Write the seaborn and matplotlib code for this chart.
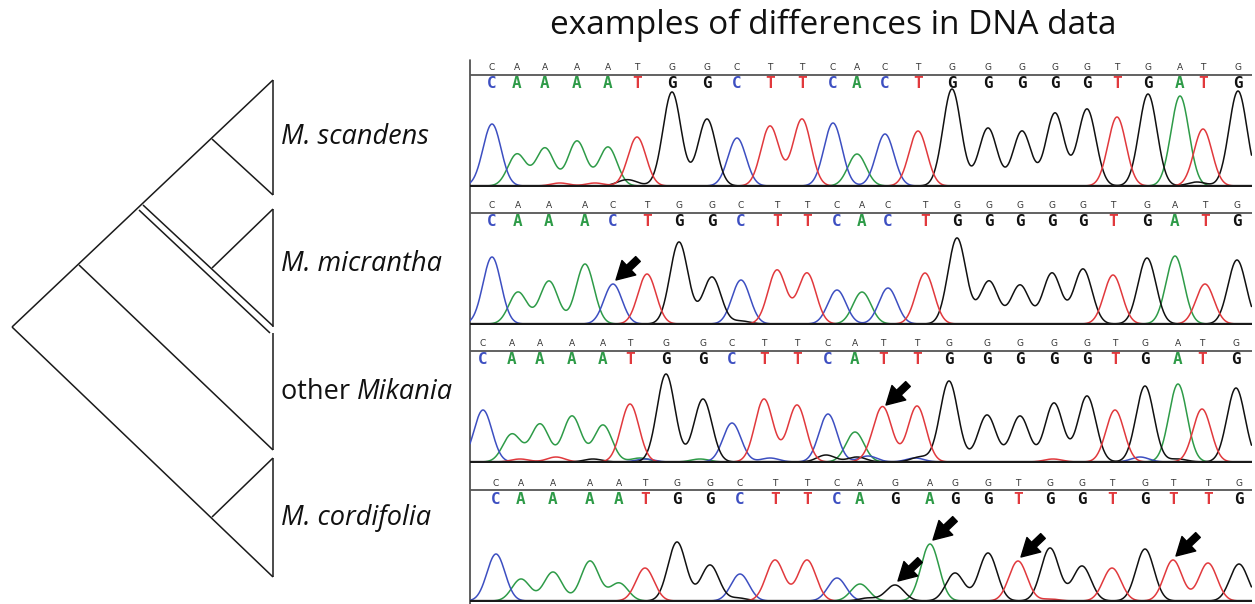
import numpy as np
import pandas as pd
import matplotlib
matplotlib.use("Agg")
import matplotlib.pyplot as plt
import seaborn as sns

# ---------------- data ----------------
title = "examples of differences in DNA data"
clade_labels = ["M. scandens", "M. micrantha", "other Mikania", "M. cordifolia"]

# chromatogram panels: base calls, peak positions (scan units), peak heights
p1_bases = list("CAAAATGGCTTCACTGGGGGTGATG")
p1_pos = [492, 517, 545, 577, 608, 637, 672, 707, 737, 770, 802, 833, 857,
          885, 918, 952, 988, 1022, 1055, 1087, 1117, 1148, 1180, 1203, 1238]
p1_height = [62, 32, 38, 45, 39, 49, 94, 67, 48, 60, 67, 63, 32,
             52, 55, 97, 58, 55, 73, 77, 69, 92, 90, 57, 95]

p2_bases = list("CAAACTGGCTTCACTGGGGGTGATG")
p2_pos = [492, 518, 549, 585, 613, 647, 679, 712, 741, 777, 807, 837, 862,
          888, 925, 957, 989, 1020, 1052, 1083, 1113, 1147, 1175, 1205, 1237]
p2_height = [67, 32, 43, 60, 40, 50, 82, 47, 44, 54, 51, 34, 32,
             36, 51, 86, 43, 39, 51, 55, 49, 66, 68, 40, 64]

p3_bases = list("CAAAATGGCTTCATTGGGGGTGATG")
p3_pos = [483, 512, 540, 572, 603, 630, 666, 703, 732, 764, 797, 828, 855,
          883, 917, 949, 987, 1020, 1054, 1087, 1115, 1145, 1178, 1202, 1236]
p3_height = [52, 28, 38, 46, 37, 58, 88, 63, 39, 63, 57, 48, 30,
             53, 56, 81, 47, 46, 59, 66, 52, 76, 78, 53, 74]

p4_bases = list("CAAAATGGCTTCAGAGGTGGTGTTG")
p4_pos = [496, 521, 553, 590, 619, 645, 677, 710, 740, 775, 807, 837, 860,
          895, 930, 955, 988, 1018, 1050, 1082, 1112, 1145, 1173, 1208, 1239]
p4_height = [47, 22, 29, 40, 18, 33, 59, 36, 27, 41, 41, 23, 17,
             16, 57, 28, 48, 40, 53, 35, 33, 52, 41, 38, 37]

# low background signal
p1_noise_bases = ["G", "G", "T", "T", "G"]
p1_noise_pos = [624, 632, 560, 595, 1197]
p1_noise_height = [4, 3, 3, 3, 4]

p2_noise_bases = ["G"]
p2_noise_pos = [741]
p2_noise_height = [3]

p3_noise_bases = ["T", "T", "G", "A", "C", "A", "C", "G", "G", "C", "T", "G", "C", "T", "C", "G"]
p3_noise_pos = [520, 556, 593, 640, 645, 700, 770, 826, 857, 868, 872, 920, 915, 1053, 1140, 1178]
p3_noise_height = [3, 5, 3, 4, 3, 3, 4, 7, 5, 6, 5, 5, 4, 3, 5, 3]

p4_noise_bases = ["G", "G", "T"]
p4_noise_pos = [738, 868, 1050]
p4_noise_height = [3, 3, 2]

# peaks marked with arrows (index into each panel)
p1_arrows = []
p2_arrows = [4]
p3_arrows = [13]
p4_arrows = [13, 14, 17, 22]

panels = [
    (p1_bases, p1_pos, p1_height, p1_noise_bases, p1_noise_pos, p1_noise_height, p1_arrows),
    (p2_bases, p2_pos, p2_height, p2_noise_bases, p2_noise_pos, p2_noise_height, p2_arrows),
    (p3_bases, p3_pos, p3_height, p3_noise_bases, p3_noise_pos, p3_noise_height, p3_arrows),
    (p4_bases, p4_pos, p4_height, p4_noise_bases, p4_noise_pos, p4_noise_height, p4_arrows),
]

base_colors = {"A": "#2e9b48", "C": "#3d4fc1", "G": "#111111", "T": "#e1393d"}

# ---------------- figure ----------------
sns.set_theme(style="white")
plt.rcParams["font.family"] = ["Open Sans", "DejaVu Sans"]

W, H = 1255, 604
fig = plt.figure(figsize=(W / 100, H / 100), dpi=100)

# overlay axes in pixel space for tree and labels
ax0 = fig.add_axes([0, 0, 1, 1])
ax0.set_xlim(0, W)
ax0.set_ylim(H, 0)
ax0.axis("off")

# ---- cladogram ----
tree_lw = 1.1
tc = "#1a1a1a"
segs = [
    [(12, 327), (273, 80)],     # spine up to scandens top
    [(12, 327), (273, 577)],    # root to cordifolia bottom
    [(79, 265), (273, 450)],    # to other Mikania
    [(143, 205), (273, 326)],   # micrantha branch (double line)
    [(139, 210), (270, 333)],
    [(212, 139), (273, 195)],   # scandens lower edge
    [(212, 268), (273, 209)],   # micrantha upper edge
    [(212, 517), (273, 458)],   # cordifolia upper edge
    [(273, 80), (273, 195)],
    [(273, 209), (273, 327)],
    [(273, 333), (273, 450)],
    [(273, 458), (273, 577)],
]
for (xa, ya), (xb, yb) in segs:
    ax0.plot([xa, xb], [ya, yb], color=tc, lw=tree_lw, solid_capstyle="butt")

label_y = [137, 264, 392, 518]
lab_fs = 19.5
for lab, y in zip(clade_labels, label_y):
    if lab.startswith("other"):
        t1 = ax0.text(281, y, "other ", fontsize=lab_fs, va="center", ha="left", color="#111")
        ax0.annotate("Mikania", xy=(1, 0), xycoords=t1, fontsize=lab_fs, style="italic",
                     va="bottom", ha="left", color="#111")
    else:
        ax0.text(281, y, lab, fontsize=lab_fs, style="italic", va="center", ha="left", color="#111")

ax0.text(833, 25, title, fontsize=24, ha="center", va="center", color="#111")

# ---- chromatograms ----
baselines = [187, 325, 463, 602]
tops = [60, 187, 325, 463]
x0, x1 = 470, 1252
sigma = 9.0
xs = np.arange(x0, x1, 0.5)

for (bases, pos, hts, nb, npos, nh, arrows), base_px, top_px in zip(panels, baselines, tops):
    hpx = base_px - top_px
    ax = fig.add_axes([x0 / W, (H - base_px) / H, (x1 - x0) / W, hpx / H])
    ax.set_xlim(x0, x1)
    ax.set_ylim(-1, hpx - 1)
    ax.set_axis_off()

    all_b = list(bases) + list(nb)
    all_p = list(pos) + list(npos)
    all_h = list(hts) + list(nh)
    rows = []
    for b in "ACGT":
        sig = np.zeros_like(xs)
        for bb, p, h in zip(all_b, all_p, all_h):
            if bb == b:
                sig += h * np.exp(-((xs - p) ** 2) / (2 * sigma ** 2))
        rows.append(pd.DataFrame({"scan": xs, "signal": sig, "base": b}))
    df = pd.concat(rows, ignore_index=True)

    sns.lineplot(data=df, x="scan", y="signal", hue="base", palette=base_colors,
                 estimator=None, sort=False, legend=False, lw=1.1, ax=ax, zorder=2)
    ax.axhline(0, color="#1a1a1a", lw=2.4, zorder=3)

    # header: small calls, rule, big coloured calls
    ax.axhline(111, color="#555555", lw=1.3)
    for b, p in zip(bases, pos):
        ax.text(p, 118, b, fontsize=6.5, family="DejaVu Sans", color="#333333",
                ha="center", va="center")
        ax.text(p, 102, b, fontsize=11.5, family="DejaVu Sans Mono", weight="bold",
                color=base_colors[b], ha="center", va="center")

    for i in arrows:
        tip = (pos[i] + 3, hts[i] + 4)
        tail = (tip[0] + 22, tip[1] + 21)
        ax.annotate("", xy=tip, xytext=tail,
                    arrowprops=dict(arrowstyle="simple,head_length=0.8,head_width=0.9,tail_width=0.3",
                                    fc="black", ec="black", shrinkA=0, shrinkB=0,
                                    mutation_scale=16))

# left frame line of the chromatogram block
ax0.plot([x0, x0], [60, H], color="#444444", lw=1.2)

fig.savefig("out.png", dpi=100, facecolor="white")
